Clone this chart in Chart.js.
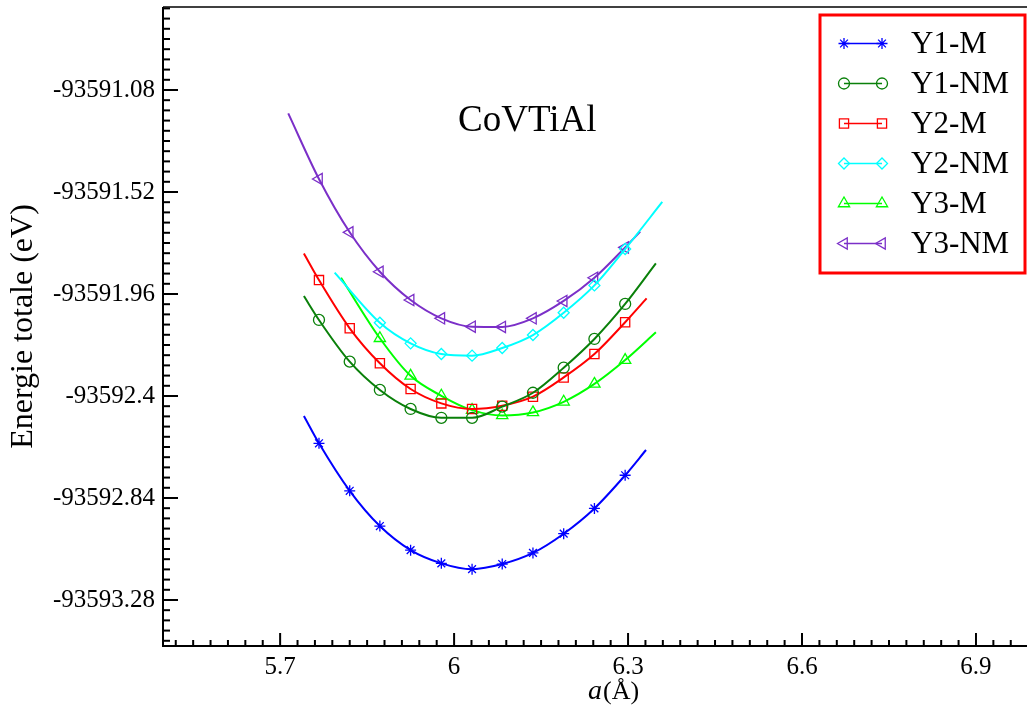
<!DOCTYPE html>
<html lang="fr">
<head>
  <meta charset="UTF-8" />
  <title>CoVTiAl</title>
  <script src="https://cdn.jsdelivr.net/npm/chart.js"></script>
  <style>
    html, body { margin: 0; padding: 0; background: #fff; }
  </style>
</head>
<body>
  <canvas id="grafica" width="1027" height="707"></canvas>

  <script>
    // paramètre de maille a (Å) des points calculés
    const aPoints = [5.767, 5.820, 5.872, 5.925, 5.978, 6.031, 6.083, 6.136, 6.189, 6.242, 6.295];
    const aPointsShort = aPoints.slice(2);

    // énergies totales (eV)
    const y1M  = [-93592.604, -93592.809, -93592.961, -93593.065, -93593.122, -93593.147, -93593.125, -93593.077, -93592.994, -93592.885, -93592.742];
    const y1NM = [-93592.072, -93592.252, -93592.374, -93592.456, -93592.494, -93592.494, -93592.446, -93592.386, -93592.278, -93592.154, -93592.003];
    const y2M  = [-93591.900, -93592.108, -93592.259, -93592.370, -93592.432, -93592.456, -93592.442, -93592.403, -93592.320, -93592.219, -93592.082];
    const y2NM = [-93592.084, -93592.173, -93592.219, -93592.226, -93592.193, -93592.137, -93592.041, -93591.923, -93591.766];
    const y3M  = [-93592.151, -93592.313, -93592.399, -93592.461, -93592.484, -93592.471, -93592.425, -93592.348, -93592.245];
    const y3NM = [-93591.464, -93591.694, -93591.864, -93591.986, -93592.065, -93592.101, -93592.102, -93592.065, -93591.990, -93591.890, -93591.759];

    // extrémités des courbes d'ajustement [a, E]
    const y1MEnds  = [[5.741, -93592.486], [6.331, -93592.633]];
    const y1NMEnds = [[5.741, -93591.969], [6.348, -93591.828]];
    const y2MEnds  = [[5.741, -93591.785], [6.332, -93591.979]];
    const y2NMEnds = [[5.794, -93591.868], [6.359, -93591.563]];
    const y3MEnds  = [[5.805, -93591.890], [6.348, -93592.125]];
    const y3NMEnds = [[5.714, -93591.181], [6.321, -93591.691]];

    const xTicks = [5.7, 6, 6.3, 6.6, 6.9];
    const yTicks = [-93591.08, -93591.52, -93591.96, -93592.4, -93592.84, -93593.28];

    const FONT = "'Liberation Serif', 'Times New Roman', serif";

    const series = [
      { label: 'Y1-M',  xs: aPoints,      ys: y1M,  ends: y1MEnds,  color: '#0000ff', style: 'star',     radius: 5.5, rot: 0 },
      { label: 'Y1-NM', xs: aPoints,      ys: y1NM, ends: y1NMEnds, color: '#0a800a', style: 'circle',   radius: 5.5, rot: 0 },
      { label: 'Y2-M',  xs: aPoints,      ys: y2M,  ends: y2MEnds,  color: '#ff0000', style: 'rect',     radius: 6.5, rot: 0 },
      { label: 'Y2-NM', xs: aPointsShort, ys: y2NM, ends: y2NMEnds, color: '#00ffff', style: 'rectRot',  radius: 5.5, rot: 0 },
      { label: 'Y3-M',  xs: aPointsShort, ys: y3M,  ends: y3MEnds,  color: '#00ff00', style: 'triangle', radius: 6.5, rot: 0 },
      { label: 'Y3-NM', xs: aPoints,      ys: y3NM, ends: y3NMEnds, color: '#7b2fc8', style: 'triangle', radius: 6.5, rot: -90 }
    ];

    const datasets = series.map(s => {
      const pts = [{ x: s.ends[0][0], y: s.ends[0][1] }]
        .concat(s.xs.map((x, i) => ({ x: x, y: s.ys[i] })))
        .concat([{ x: s.ends[1][0], y: s.ends[1][1] }]);
      const last = pts.length - 1;
      return {
        label: s.label,
        data: pts,
        borderColor: s.color,
        backgroundColor: 'rgba(0,0,0,0)',
        borderWidth: 2,
        cubicInterpolationMode: 'monotone',
        pointStyle: s.style,
        pointRotation: s.rot,
        pointBorderWidth: 1.3,
        pointRadius: ctx => (ctx.dataIndex === 0 || ctx.dataIndex === last) ? 0 : s.radius
      };
    });

    // axes avec graduations vers l'intérieur, légende encadrée, textes
    const decor = {
      id: 'decor',
      afterDraw(chart) {
        const { ctx, chartArea: a, scales: { x, y } } = chart;
        ctx.save();
        ctx.strokeStyle = '#000';

        // cadre : axe gauche, axe bas, ligne du haut
        ctx.lineWidth = 2;
        ctx.beginPath();
        ctx.moveTo(a.left, a.top);
        ctx.lineTo(a.left, a.bottom);
        ctx.lineTo(a.right, a.bottom);
        ctx.stroke();
        ctx.lineWidth = 1.5;
        ctx.beginPath();
        ctx.moveTo(a.left, a.top);
        ctx.lineTo(a.right, a.top);
        ctx.stroke();

        // graduations y (pas 0.044)
        ctx.lineWidth = 2;
        for (let k = -60; k <= 60; k++) {
          const v = yTicks[0] + k * 0.044;
          const py = y.getPixelForValue(v);
          if (py < a.top + 1 || py > a.bottom - 1) continue;
          const len = (k % 10 === 0) ? 15 : 7;
          ctx.beginPath();
          ctx.moveTo(a.left, py);
          ctx.lineTo(a.left + len, py);
          ctx.stroke();
        }
        // graduations x (pas 0.03)
        for (let k = -20; k <= 60; k++) {
          const v = xTicks[0] + k * 0.03;
          const px = x.getPixelForValue(v);
          if (px < a.left + 1 || px > a.right) continue;
          const len = (k % 10 === 0) ? 13 : 6;
          ctx.beginPath();
          ctx.moveTo(px, a.bottom);
          ctx.lineTo(px, a.bottom - len);
          ctx.stroke();
        }

        // titre de l'axe x : a(Å)
        ctx.fillStyle = '#000';
        ctx.textBaseline = 'alphabetic';
        ctx.textAlign = 'left';
        ctx.font = 'italic 28px ' + FONT;
        const ax = 588, ay = 699;
        ctx.fillText('a', ax, ay);
        const wA = ctx.measureText('a').width;
        ctx.font = '26px ' + FONT;
        ctx.fillText('(Å)', ax + wA + 1, ay);

        // nom du composé
        ctx.font = '37px ' + FONT;
        ctx.fillText('CoVTiAl', 458, 131);

        // légende
        const lx = 820, ly = 15, lw = 205, lh = 258;
        ctx.strokeStyle = '#ff0000';
        ctx.lineWidth = 3;
        ctx.strokeRect(lx, ly, lw, lh);
        ctx.font = '31px ' + FONT;
        ctx.textBaseline = 'middle';
        series.forEach((s, i) => {
          const cy = 43.5 + i * 40;
          ctx.strokeStyle = s.color;
          ctx.lineWidth = 1.5;
          ctx.beginPath();
          ctx.moveTo(844, cy);
          ctx.lineTo(882, cy);
          ctx.stroke();
          ctx.lineWidth = 1.3;
          ctx.fillStyle = 'rgba(0,0,0,0)';
          [844, 882].forEach(px => {
            Chart.helpers.drawPoint(ctx, {
              pointStyle: s.style, radius: s.radius, rotation: s.rot, borderWidth: 1.3
            }, px, cy);
          });
          ctx.fillStyle = '#000';
          ctx.fillText(s.label, 911, cy + 1);
        });
        ctx.restore();
      }
    };

    const ctx = document.getElementById('grafica').getContext('2d');
    new Chart(ctx, {
      type: 'line',
      data: { datasets: datasets },
      plugins: [decor],
      options: {
        responsive: false,
        animation: false,
        layout: { padding: { top: 7, right: 0, left: 0, bottom: 0 } },
        plugins: { legend: { display: false }, tooltip: { enabled: false } },
        scales: {
          x: {
            type: 'linear',
            min: 5.498,
            max: 6.988,
            afterBuildTicks: scale => { scale.ticks = xTicks.map(v => ({ value: v })); },
            afterFit: scale => {
              scale.height = 61;
              scale.paddingLeft = 0;
              scale.paddingRight = 0;
            },
            grid: { display: false, drawTicks: false },
            border: { display: false },
            ticks: {
              color: '#000',
              padding: 6,
              maxRotation: 0,
              font: { family: FONT, size: 25 },
              callback: v => String(v)
            }
          },
          y: {
            type: 'linear',
            min: -93593.4785,
            max: -93590.722,
            afterBuildTicks: scale => { scale.ticks = yTicks.map(v => ({ value: v })); },
            afterFit: scale => {
              scale.width = 163;
              scale.paddingTop = 0;
              scale.paddingBottom = 0;
            },
            grid: { display: false, drawTicks: false },
            border: { display: false },
            title: {
              display: true,
              text: 'Energie totale (eV)',
              color: '#000',
              padding: { top: 4, bottom: 0 },
              font: { family: FONT, size: 32 }
            },
            ticks: {
              color: '#000',
              padding: 8,
              font: { family: FONT, size: 25 },
              callback: v => String(Number(v.toFixed(2)))
            }
          }
        }
      }
    });
  </script>
</body>
</html>
